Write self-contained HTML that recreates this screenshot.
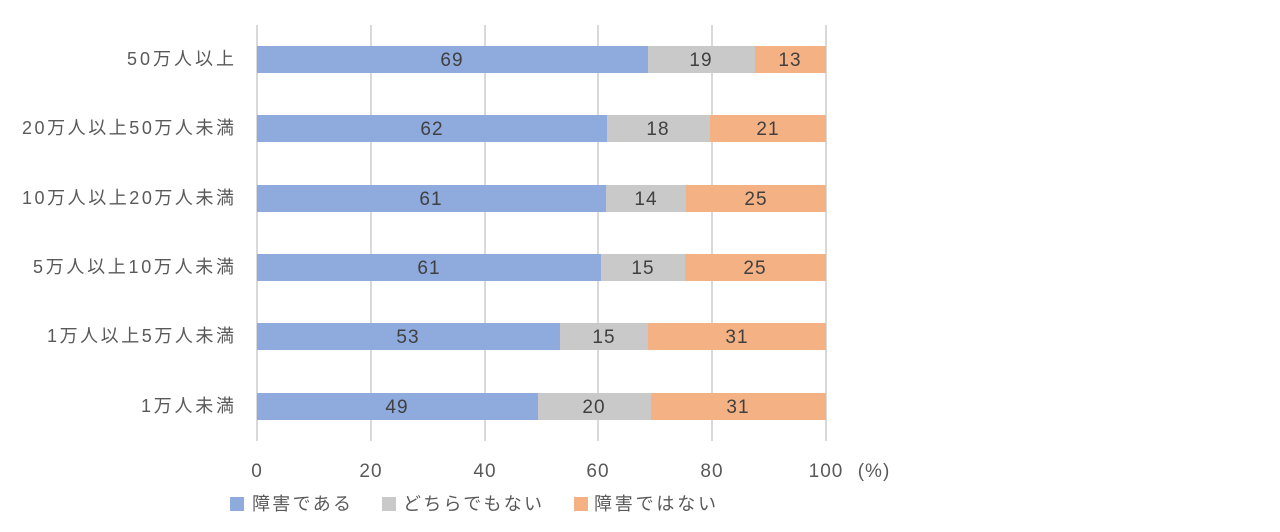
<!DOCTYPE html>
<html><head><meta charset="utf-8"><style>
html,body{margin:0;padding:0;background:#fff;}
svg{display:block;font-family:"Liberation Sans","Noto Sans CJK JP",sans-serif;}
</style></head><body>
<svg width="1280" height="532" viewBox="0 0 1280 532" xmlns="http://www.w3.org/2000/svg">
<g stroke="#d9d9d9" stroke-width="2">
<line x1="257" y1="25" x2="257" y2="441"/>
<line x1="371" y1="25" x2="371" y2="441"/>
<line x1="485" y1="25" x2="485" y2="441"/>
<line x1="598" y1="25" x2="598" y2="441"/>
<line x1="712" y1="25" x2="712" y2="441"/>
<line x1="826" y1="25" x2="826" y2="441"/>
</g>
<g>
<rect x="257" y="46" width="391" height="27" fill="#8faadc"/><rect x="648" y="46" width="107" height="27" fill="#c9c9c9"/><rect x="755" y="46" width="71" height="27" fill="#f4b183"/>
<rect x="257" y="115" width="350" height="27" fill="#8faadc"/><rect x="607" y="115" width="103" height="27" fill="#c9c9c9"/><rect x="710" y="115" width="116" height="27" fill="#f4b183"/>
<rect x="257" y="185" width="349" height="27" fill="#8faadc"/><rect x="606" y="185" width="80" height="27" fill="#c9c9c9"/><rect x="686" y="185" width="140" height="27" fill="#f4b183"/>
<rect x="257" y="254" width="344" height="27" fill="#8faadc"/><rect x="601" y="254" width="84" height="27" fill="#c9c9c9"/><rect x="685" y="254" width="141" height="27" fill="#f4b183"/>
<rect x="257" y="323" width="303" height="27" fill="#8faadc"/><rect x="560" y="323" width="88" height="27" fill="#c9c9c9"/><rect x="648" y="323" width="178" height="27" fill="#f4b183"/>
<rect x="257" y="393" width="281" height="27" fill="#8faadc"/><rect x="538" y="393" width="113" height="27" fill="#c9c9c9"/><rect x="651" y="393" width="175" height="27" fill="#f4b183"/>
</g>
<g fill="#404040" font-size="19" text-anchor="middle" letter-spacing="1">
<text x="452" y="66">69</text><text x="701" y="66">19</text><text x="790" y="66">13</text>
<text x="432" y="135">62</text><text x="658" y="135">18</text><text x="768" y="135">21</text>
<text x="431" y="205">61</text><text x="646" y="205">14</text><text x="756" y="205">25</text>
<text x="429" y="274">61</text><text x="643" y="274">15</text><text x="755" y="274">25</text>
<text x="408" y="343">53</text><text x="604" y="343">15</text><text x="737" y="343">31</text>
<text x="397" y="413">49</text><text x="594" y="413">20</text><text x="738" y="413">31</text>
</g>
<g fill="#595959" font-size="18" lengthAdjust="spacing">
<text x="127" y="65" textLength="107">50万人以上</text>
<text x="22" y="134" textLength="212">20万人以上50万人未満</text>
<text x="22" y="204" textLength="212">10万人以上20万人未満</text>
<text x="33" y="273" textLength="201">5万人以上10万人未満</text>
<text x="47" y="342" textLength="187">1万人以上5万人未満</text>
<text x="141" y="412" textLength="93">1万人未満</text>
</g>
<g fill="#595959" font-size="19" text-anchor="middle" letter-spacing="1">
<text x="257" y="477">0</text><text x="371" y="477">20</text><text x="485" y="477">40</text><text x="598" y="477">60</text><text x="712" y="477">80</text><text x="826" y="477">100</text>
<text x="874" y="477">(%)</text>
</g>
<g font-size="18" fill="#595959">
<rect x="230" y="497" width="14" height="14" fill="#8faadc"/><text x="252" y="510" textLength="99">障害である</text>
<rect x="382" y="497" width="14" height="14" fill="#c9c9c9"/><text x="403" y="510" textLength="139">どちらでもない</text>
<rect x="574" y="497" width="14" height="14" fill="#f4b183"/><text x="594" y="510" textLength="122">障害ではない</text>
</g>
</svg>
</body></html>
